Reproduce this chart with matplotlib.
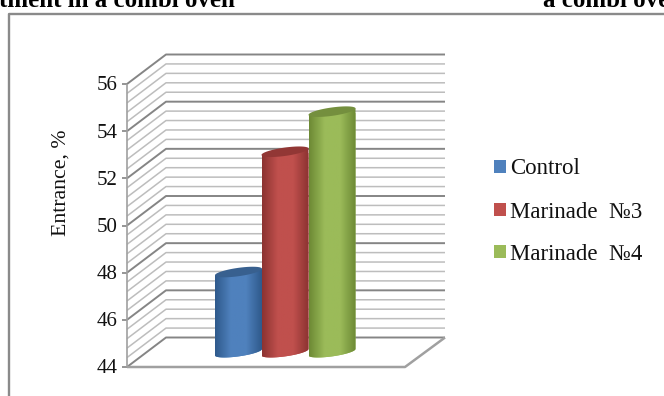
import numpy as np
import matplotlib
matplotlib.use("Agg")
import matplotlib.pyplot as plt
from matplotlib.patches import Polygon, Rectangle
from matplotlib.colors import LinearSegmentedColormap

categories = ["Control", "Marinade  №3", "Marinade  №4"]
values = [47.4, 52.5, 54.2]
colors = ["#4f81bd", "#c0504d", "#9bbb59"]
darks = ["#2f5a8c", "#8c3331", "#6d8a35"]
tops = ["#38608f", "#923735", "#748f3e"]
yticks = [44, 46, 48, 50, 52, 54, 56]
minor_per_major = 5

W, H = 664, 396
plt.rcParams["font.family"] = "Liberation Serif"
fig = plt.figure(figsize=(W / 100, H / 100), dpi=100)
L, R, T, B = 127, 405, 84, 367
ax = fig.add_axes([L / W, 1 - B / H, (R - L) / W, (B - T) / H])
ax.axis("off")
ppu = (B - T) / 12
DX, DY = 39, 29.5 / ppu
gc, mc = "#858585", "#bdbdbd"
kw = dict(clip_on=False, solid_capstyle="butt")
for k in range(len(yticks) - 1):
    for j in range(1, minor_per_major):
        v = yticks[k] + (yticks[k + 1] - yticks[k]) * j / minor_per_major
        ax.plot([L, L + DX, 445], [v, v + DY, v + DY], color=mc, lw=1.1, zorder=1, **kw)
for v in yticks:
    ax.plot([L, L + DX, 445], [v, v + DY, v + DY], color=gc, lw=1.4, zorder=2, **kw)
    ax.plot([L - 5, L], [v, v], color="#8c8c8c", lw=1.3, **kw)
    ax.text(L - 9, v - 0.08, str(v), ha="right", va="center", fontsize=15, color="#111111")
ax.plot([L, L], [44, 56], color="#a0a0a0", lw=1.2, zorder=2, **kw)
ax.plot([L, R, 445], [44, 44, 44 + DY], color="#a0a0a0", lw=1.8, zorder=2, **kw)

cmaps = [LinearSegmentedColormap.from_list("c", [d, c, c, d]) for c, d in zip(colors, darks)]
centers = [238.5, 285, 332]
a, b, tilt = 23.5, 4.2 / ppu, 3.2 / ppu
off = 14.8 / ppu
t = np.linspace(0, 2 * np.pi, 80)
up = np.linspace(0, np.pi, 40)
grad = np.linspace(0, 1, 64).reshape(1, -1)
for i, (cx, v) in enumerate(zip(centers, values)):
    top, bot = v + off, 44 + off
    body = np.c_[np.r_[cx + a * np.cos(up), cx - a * np.cos(up)],
                 np.r_[top + tilt * np.cos(up), bot - tilt * np.cos(up) - b * np.sin(up)]]
    clip = Polygon(body, closed=True, transform=ax.transData, fc="none", ec="none")
    ax.add_patch(clip)
    rects = ax.bar(cx, top - bot + 2 * tilt, bottom=bot - b - tilt, width=2 * a, color=colors[i], zorder=3 + i)
    rects[0].set_clip_path(clip)
    im = ax.imshow(grad, extent=[cx - a, cx + a, bot - 1, top + 1], cmap=cmaps[i],
                   aspect="auto", zorder=3 + i, interpolation="bilinear")
    im.set_clip_path(clip)
    ax.add_patch(Polygon(np.c_[cx + a * np.cos(t), top + b * np.sin(t) + tilt * np.cos(t)],
                         closed=True, fc=tops[i], ec="none", zorder=3.5 + i, clip_on=False))
ax.set_xlim(L, R)
ax.set_ylim(44, 56)

fig.text(61 / W, 1 - 183 / H, "Entrance, %", rotation=90, ha="center", va="center", fontsize=15.7, color="#111111")

for name, c, y in zip(categories, colors, [167, 210, 252]):
    fig.add_artist(Rectangle((493.5 / W, 1 - (y + 6) / H), 12 / W, 13 / H, transform=fig.transFigure, fc=c, ec="none"))
    fig.text(510 / W, 1 - (y + 2) / H, name, ha="left", va="center", fontsize=16.5, color="#111111")

fig.add_artist(plt.Line2D([9 / W, 9 / W, 664 / W], [0, 1 - 13.5 / H, 1 - 13.5 / H], color="#8a8a8a", lw=1.7, transform=fig.transFigure))
fig.text(-1 / W, 1 - 7 / H, "tment in a combi oven", ha="left", va="baseline", fontsize=18, fontweight="bold", color="black")
fig.text(543 / W, 1 - 7 / H, "a combi oven", ha="left", va="baseline", fontsize=18, fontweight="bold", color="black")
fig.savefig("out.png", dpi=100)
